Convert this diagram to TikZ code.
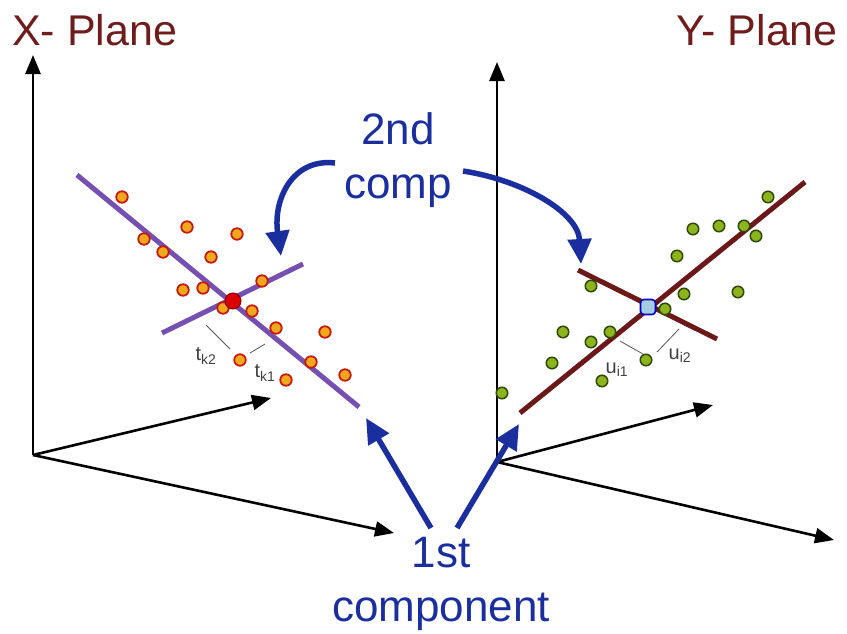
\documentclass[tikz,border=0pt]{standalone}
\usepackage{fontspec}
\setmainfont{Liberation Sans}
\usetikzlibrary{arrows.meta}
\definecolor{plnred}{HTML}{6E1C1C}
\definecolor{cmpblue}{HTML}{1A2E9E}
\definecolor{xline}{HTML}{7650B0}
\definecolor{yline}{HTML}{6A1818}
\definecolor{xfill}{HTML}{F2A81C}
\definecolor{xedge}{HTML}{C41A10}
\definecolor{yfill}{HTML}{8DB41C}
\definecolor{yedge}{HTML}{2E4A0A}
\definecolor{ctrfill}{HTML}{A6CCE4}
\definecolor{projgray}{HTML}{555555}

\begin{document}
\begin{tikzpicture}[
    x=1pt, y=-1pt,
    axis/.style={
        -{Triangle[length=19pt,width=15pt]},
        line width=2.6pt,
        draw=black
    },
    pcline/.style={
        line width=5pt
    },
    cmparrow/.style={
        -{Triangle[length=25pt,width=23pt]},
        line width=5.5pt,
        draw=cmpblue
    },
    xdot/.style={
        circle,
        fill=xfill,
        draw=xedge,
        line width=1.8pt,
        minimum size=11.5pt,
        inner sep=0pt
    },
    ydot/.style={
        circle,
        fill=yfill,
        draw=yedge,
        line width=1.5pt,
        minimum size=11.5pt,
        inner sep=0pt
    },
    proj/.style={
        draw=projgray,
        line width=0.8pt
    },
    title/.style={
        font=\fontsize{43}{50}\selectfont,
        text=plnred,
        inner sep=0pt
    },
    cmptext/.style={
        font=\fontsize{44}{54}\selectfont,
        text=cmpblue,
        align=center,
        inner sep=0pt
    },
    score/.style={
        font=\fontsize{20}{24}\selectfont,
        text=black!75,
        inner sep=0pt
    }
]
\useasboundingbox (0,0) rectangle (847,633);

% axes
\coordinate (xo) at (33,455);
\coordinate (yo) at (497,462);
\draw[axis] (xo) -- (33,55);
\draw[axis] (xo) -- (271,398);
\draw[axis] (xo) -- (394,533);
\draw[axis] (yo) -- (497,62);
\draw[axis] (yo) -- (713,405);
\draw[axis] (yo) -- (834,540);

% principal directions
\draw[pcline, xline] (77,175) -- (359,407);
\draw[pcline, xline] (162,333) -- (303,264);
\draw[pcline, yline] (520,413) -- (805,182);
\draw[pcline, yline] (578,270) -- (717,339);

\draw[proj] (206,325) -- (230,349);
\draw[proj] (250,353) -- (265,344);
\draw[proj] (620,341) -- (643,354);
\draw[proj] (657,352) -- (679,329);

\foreach \p [count=\i] in {(122,197),(187,227),(237,234),(144,239),(163,252),(211,257),
    (262,281),(183,290),(203,288),(223,308),(252,311),(276,328),(325,332),(240,360),
    (311,362),(345,375),(286,380)}
    \node[xdot] (x\i) at \p {};
\foreach \p [count=\i] in {(768,197),(693,229),(719,226),(744,226),(756,236),(677,256),
    (591,286),(684,294),(738,292),(665,309),(563,332),(610,332),(591,342),(552,363),
    (646,360),(602,381),(502,393)}
    \node[ydot] (y\i) at \p {};

\node[circle, fill=red!85!black, draw=red!55!black, line width=1pt,
    minimum size=16pt, inner sep=0pt] (xmean) at (233,301) {};
\node[rectangle, rounded corners=3.5pt, fill=ctrfill, draw=blue!75!black, line width=1.6pt,
    minimum size=15pt, inner sep=0pt] (ymean) at (648,307) {};

\node[score] (tk2) at (206,356) {t\textsubscript{k2}};
\node[score] (tk1) at (265,373) {t\textsubscript{k1}};
\node[score] (ui1) at (617,370) {u\textsubscript{i1}};
\node[score] (ui2) at (680,356) {u\textsubscript{i2}};

% labels
\node[title, anchor=base west] (xplane) at (12,45) {X- Plane};
\node[title, anchor=base east] (yplane) at (838,45) {Y- Plane};
\node[cmptext, anchor=north] (second) at (398,112) {2nd\\comp};
\node[cmptext, anchor=north] (first) at (441,537) {1st\\component};

\coordinate (s2l) at (335,163);
\coordinate (e2l) at (281,256);
\coordinate (s2r) at (463,171);
\coordinate (e2r) at (581,264);
\coordinate (s1l) at (431,528);
\coordinate (e1l) at (366,418);
\coordinate (s1r) at (457,528);
\coordinate (e1r) at (519,424);

\draw[cmparrow] (s2l) .. controls (292,158) and (273,200) .. (e2l);
\draw[cmparrow] (s2r) .. controls (522,180) and (578,212) .. (e2r);
\draw[cmparrow] (s1l) -- (e1l);
\draw[cmparrow] (s1r) -- (e1r);

\end{tikzpicture}
\end{document}
